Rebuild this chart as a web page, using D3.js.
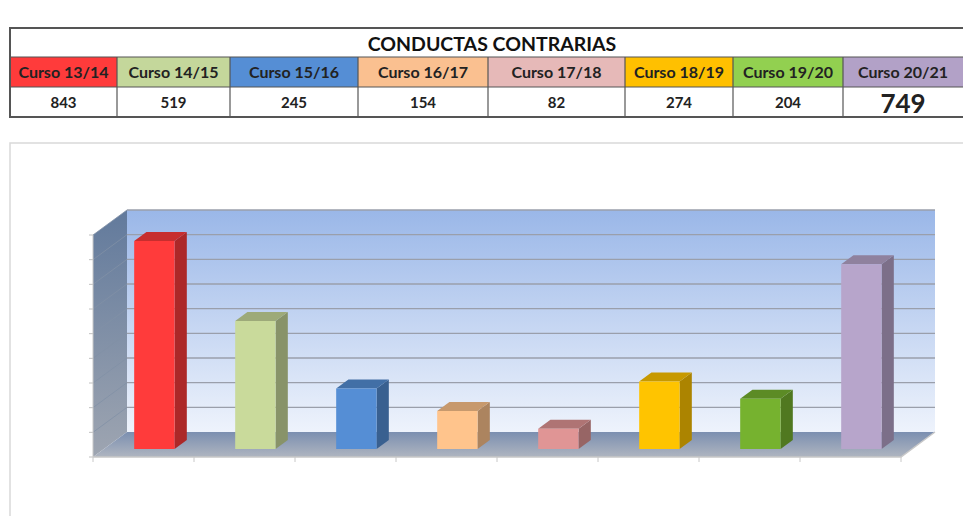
<!DOCTYPE html>
<html>
<head>
<meta charset="utf-8">
<script src="https://d3js.org/d3.v7.min.js"></script>
<style>
  body { margin: 0; background: #fff; font-family: Lato, "Open Sans", Arial, sans-serif; }
</style>
</head>
<body>
<script>
  const cursos = ['Curso 13/14', 'Curso 14/15', 'Curso 15/16', 'Curso 16/17', 'Curso 17/18', 'Curso 18/19', 'Curso 19/20', 'Curso 20/21']
  const valores = [843, 519, 245, 154, 82, 274, 204, 749]
  const headerColors = ['#ff3b3b', '#c4d79b', '#558ed5', '#fac090', '#e6b9b8', '#ffc000', '#92d050', '#b2a1c7']
  const frontColors = ['#ff3b3b', '#c9da9b', '#558ed5', '#ffc48c', '#e09595', '#ffc400', '#76b22f', '#b7a5cb']
  const yTicks = d3.range(0, 901, 100)

  const width = 963
  const height = 516
  const svg = d3.select('body').append('svg').attr('width', width).attr('height', height)

  // ---- table ----
  const colEdges = [10, 117, 230, 358, 488, 625, 733, 843, 968]
  const rowY = [28, 57, 87, 117]
  const table = svg.append('g')

  table.append('rect').attr('x', 10).attr('y', rowY[0]).attr('width', 958).attr('height', rowY[3] - rowY[0])
    .attr('fill', '#fff')
  table.selectAll('rect.hdr').data(cursos).join('rect').attr('class', 'hdr')
    .attr('x', (d, i) => colEdges[i]).attr('y', rowY[1])
    .attr('width', (d, i) => colEdges[i + 1] - colEdges[i]).attr('height', rowY[2] - rowY[1])
    .attr('fill', (d, i) => headerColors[i])

  table.append('text').attr('x', 492).attr('y', 51).attr('text-anchor', 'middle')
    .style('font-weight', 'bold').style('font-size', '19.5px').attr('fill', '#111')
    .text('CONDUCTAS CONTRARIAS')

  table.selectAll('text.hdr').data(cursos).join('text').attr('class', 'hdr')
    .attr('x', (d, i) => (colEdges[i] + Math.min(colEdges[i + 1], 963)) / 2).attr('y', 78)
    .attr('text-anchor', 'middle').style('font-weight', 'bold').style('font-size', '16px').attr('fill', '#222')
    .text(d => d)

  table.selectAll('text.val').data(valores).join('text').attr('class', 'val')
    .attr('x', (d, i) => (colEdges[i] + Math.min(colEdges[i + 1], 963)) / 2)
    .attr('y', (d, i) => i === 7 ? 113 : 108)
    .attr('text-anchor', 'middle').style('font-weight', 'bold')
    .style('font-size', (d, i) => i === 7 ? '26px' : '15px').attr('fill', '#222')
    .text(d => d)

  // grid lines of the table
  rowY.slice(1, 3).forEach(yy => {
    table.append('line').attr('x1', 10).attr('x2', 968).attr('y1', yy).attr('y2', yy)
      .attr('stroke', '#555').attr('stroke-width', 1.2)
  })
  colEdges.slice(1, -1).forEach(xx => {
    table.append('line').attr('x1', xx).attr('x2', xx).attr('y1', rowY[1]).attr('y2', rowY[3])
      .attr('stroke', '#555').attr('stroke-width', 1.2)
  })
  table.append('rect').attr('x', 10).attr('y', rowY[0]).attr('width', 958).attr('height', rowY[3] - rowY[0])
    .attr('fill', 'none').attr('stroke', '#555').attr('stroke-width', 2)

  // ---- chart frame ----
  svg.append('rect').attr('x', 10).attr('y', 143).attr('width', 970).attr('height', 400)
    .attr('fill', '#fff').attr('stroke', '#d9d9d9').attr('stroke-width', 1.5)

  // ---- 3D chart ----
  const left = 93, right = 901, floorFront = 457
  const DX = 34, DY = 25
  const zf = 0.32, zb = 0.68

  const x = d3.scaleBand().domain(cursos).range([left, right]).paddingInner(0.6).paddingOuter(0.3)
  const edge = d3.scaleLinear().domain([0, cursos.length]).range([left, right])
  const y = d3.scaleLinear().domain([0, 900]).range([0, 222])

  const P = (px, h, z) => [px + z * DX, floorFront - z * DY - h]
  const poly = pts => 'M' + pts.map(p => p.join(',')).join('L') + 'Z'

  const defs = svg.append('defs')
  const grad = (id, c1, c2, x2, y2) => {
    const g = defs.append('linearGradient').attr('id', id)
      .attr('x1', 0).attr('y1', 0).attr('x2', x2).attr('y2', y2)
    g.append('stop').attr('offset', 0).attr('stop-color', c1)
    g.append('stop').attr('offset', 1).attr('stop-color', c2)
  }
  grad('backG', '#9ab7e8', '#eef3fc', 0, 1)
  grad('leftG', '#627a9c', '#9ea5b1', 0, 1)
  grad('floorG', '#7b8fb0', '#afb5c0', 0, 1)

  const wallTop = y(900)
  // back wall
  svg.append('path').attr('d', poly([P(left, 0, 1), P(right, 0, 1), P(right, wallTop, 1), P(left, wallTop, 1)]))
    .attr('fill', 'url(#backG)')
  // left wall
  svg.append('path').attr('d', poly([P(left, 0, 0), P(left, 0, 1), P(left, wallTop, 1), P(left, wallTop, 0)]))
    .attr('fill', 'url(#leftG)')
  // floor
  svg.append('path').attr('d', poly([P(left, 0, 0), P(right, 0, 0), P(right, 0, 1), P(left, 0, 1)]))
    .attr('fill', 'url(#floorG)')

  // grid lines
  svg.append('g').selectAll('line').data(yTicks.slice(1)).join('line')
    .attr('x1', P(left, 0, 1)[0]).attr('x2', P(right, 0, 1)[0])
    .attr('y1', d => P(left, y(d), 1)[1]).attr('y2', d => P(left, y(d), 1)[1])
    .attr('stroke', '#9a9fab').attr('stroke-width', 1.3)
  svg.append('g').selectAll('line').data(yTicks.slice(1)).join('line')
    .attr('x1', P(left, 0, 0)[0]).attr('x2', P(left, 0, 1)[0])
    .attr('y1', d => P(left, y(d), 0)[1]).attr('y2', d => P(left, y(d), 1)[1])
    .attr('stroke', '#8290a6').attr('stroke-width', 0.8)
  // left axis ticks
  svg.append('g').selectAll('line').data(yTicks).join('line')
    .attr('x1', left - 4).attr('x2', left)
    .attr('y1', d => P(left, y(d), 0)[1]).attr('y2', d => P(left, y(d), 0)[1])
    .attr('stroke', '#c0c0c0')
  svg.append('line').attr('x1', left).attr('x2', left)
    .attr('y1', P(left, wallTop, 0)[1]).attr('y2', floorFront).attr('stroke', '#c8c8c8')

  // floor front edge and category ticks
  svg.append('path').attr('d', 'M' + P(left, 0, 0).join(',') + 'L' + P(right, 0, 0).join(',') + 'L' + P(right, 0, 1).join(','))
    .attr('fill', 'none').attr('stroke', '#c8c8c8').attr('stroke-width', 1.5)
  svg.append('g').selectAll('line').data(d3.range(cursos.length + 1)).join('line')
    .attr('x1', d => edge(d)).attr('x2', d => edge(d))
    .attr('y1', floorFront).attr('y2', floorFront + 5).attr('stroke', '#c8c8c8')

  // bars
  const bars = svg.append('g').selectAll('g').data(valores).join('g')
  const x0 = (d, i) => x(cursos[i])
  const x1 = (d, i) => x(cursos[i]) + x.bandwidth()
  bars.append('path')
    .attr('d', (d, i) => poly([P(x1(d, i), 0, zf), P(x1(d, i), 0, zb), P(x1(d, i), y(d), zb), P(x1(d, i), y(d), zf)]))
    .attr('fill', (d, i) => d3.color(frontColors[i]).darker(1.1))
  bars.append('path')
    .attr('d', (d, i) => poly([P(x0(d, i), y(d), zf), P(x1(d, i), y(d), zf), P(x1(d, i), y(d), zb), P(x0(d, i), y(d), zb)]))
    .attr('fill', (d, i) => d3.color(frontColors[i]).darker(0.7))
  bars.append('path')
    .attr('d', (d, i) => poly([P(x0(d, i), 0, zf), P(x1(d, i), 0, zf), P(x1(d, i), y(d), zf), P(x0(d, i), y(d), zf)]))
    .attr('fill', (d, i) => frontColors[i])
</script>
</body>
</html>
